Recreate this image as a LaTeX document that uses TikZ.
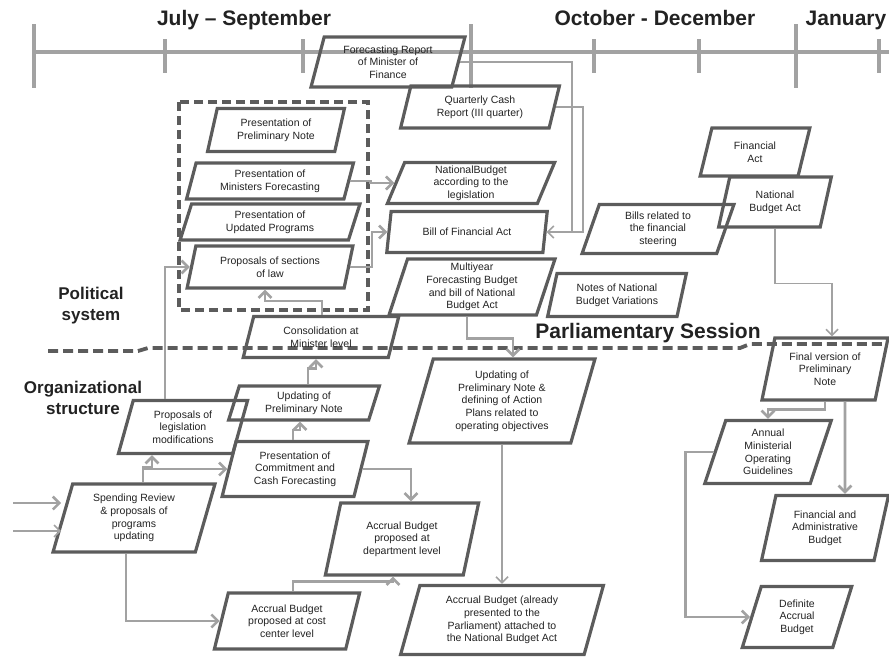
\documentclass[tikz,border=0pt]{standalone}
\usepackage{fontspec}
\setmainfont{Liberation Sans}
\usepackage{tikz}
\usetikzlibrary{shapes.geometric, arrows.meta, positioning, calc}
\definecolor{boxgray}{HTML}{5C5C5C}
\definecolor{linkgray}{HTML}{A2A2A2}
\definecolor{inkgray}{HTML}{222222}

\tikzset{
  pbox/.style={trapezium, trapezium left angle=75, trapezium right angle=105,
    trapezium stretches=true, draw=boxgray, line width=3.2pt, align=center,
    inner sep=1pt, text=inkgray, font=\fontsize{10.5}{12.7}\selectfont},
  flow/.style={draw=linkgray, line width=2.6pt, -{Straight Barb[length=6.5pt,width=13pt]}},
  thinflow/.style={draw=linkgray, line width=1.6pt, -{Straight Barb[length=6pt,width=12pt]}},
  timeline/.style={draw=linkgray, line width=3.5pt},
  period/.style={font=\fontsize{21}{24}\selectfont\bfseries, text=inkgray, inner sep=0pt},
  layer/.style={font=\fontsize{17}{21}\selectfont\bfseries, text=inkgray, align=center, inner sep=0pt},
  divider/.style={draw=boxgray, line width=3.8pt, dash pattern=on 10pt off 5pt},
}

\begin{document}
\begin{tikzpicture}[x=1pt, y=-1pt]
  \useasboundingbox (0,0) rectangle (889,657);

  % time axis
  \draw[timeline] (34,52) -- (889,52);
  \foreach \tx in {34, 471, 796}
    \draw[timeline] (\tx,24) -- (\tx,88);
  \foreach \tx in {165, 303, 594, 699, 879}
    \draw[timeline] (\tx,39) -- (\tx,73);

  \node[period] (julsep) at (244,20) {July – September};
  \node[period] (octdec) at (655,18) {October - December};
  \node[period] (jan) at (846,20) {January};

  % layers
  \node[layer] (polit) at (91,306) {Political\\system};
  \node[layer] (orgst) at (83,398) {Organizational\\structure};
  \node[period] (parl) at (648,333) {Parliamentary Session};
  \draw[divider] (48,351) -- (138,351) -- (148,348) -- (740,348) -- (750,344) -- (882,344);

  % political group
  \draw[divider, line width=3.2pt, dash pattern=on 9pt off 5pt] (179,102) rectangle (368,310);

  % boxes
  \node[pbox, minimum width=154pt, minimum height=50pt] (fore) at (388,62) {Forecasting Report\\of Minister of\\Finance};
  \node[pbox, minimum width=159pt, minimum height=42pt] (qcash) at (480,107) {Quarterly Cash\\Report (III quarter)};
  \node[pbox, minimum width=138pt, minimum height=43pt] (prelim) at (276,130) {Presentation of\\Preliminary Note};
  \node[pbox, minimum width=167pt, minimum height=36pt] (minfc) at (270,181) {Presentation of\\Ministers Forecasting};
  \node[pbox, minimum width=180pt, minimum height=36pt] (updprog) at (270,222) {Presentation of\\Updated Programs};
  \node[pbox, minimum width=166pt, minimum height=42pt] (propsec) at (270,267) {Proposals of sections\\of law};
  \node[pbox, minimum width=168pt, minimum height=41pt] (natleg) at (471,183) {NationalBudget\\according to the\\legislation};
  \node[pbox, minimum width=161pt, minimum height=41pt] (billfa) at (467,232) {Bill of Financial Act};
  \node[pbox, minimum width=166pt, minimum height=56pt] (multi) at (472,287) {Multiyear\\Forecasting Budget\\and bill of National\\Budget Act};
  \node[pbox, minimum width=140pt, minimum height=43pt] (notes) at (617,295) {Notes of National\\Budget Variations};
  \node[pbox, minimum width=153pt, minimum height=49pt] (billsfs) at (658,229) {Bills related to\\the financial\\steering};
  \node[pbox, minimum width=110pt, minimum height=48pt] (finact) at (755,152) {Financial\\Act};
  \node[pbox, minimum width=113pt, minimum height=50pt] (nba) at (775,202) {National\\Budget Act};
  \node[pbox, minimum width=157pt, minimum height=41pt] (consol) at (321,337) {Consolidation at\\Minister level};
  \node[pbox, minimum width=152pt, minimum height=34pt] (updpn) at (304,403) {Updating of\\Preliminary Note};
  \node[pbox, minimum width=130pt, minimum height=53pt] (proplm) at (183,427) {Proposals of\\legislation\\modifications};
  \node[pbox, minimum width=146pt, minimum height=55pt] (commit) at (295,469) {Presentation of\\Commitment and\\Cash Forecasting};
  \node[pbox, minimum width=162pt, minimum height=68pt] (spend) at (134,518) {Spending Review\\\& proposals of\\programs\\updating};
  \node[pbox, minimum width=154pt, minimum height=72pt] (accdep) at (402,539) {Accrual Budget\\proposed at\\department level};
  \node[pbox, minimum width=146pt, minimum height=56pt] (acccost) at (287,621) {Accrual Budget\\proposed at cost\\center level};
  \node[pbox, minimum width=203pt, minimum height=69pt] (accpar) at (502,620) {Accrual Budget (already\\presented to the\\Parliament) attached to\\the National Budget Act};
  \node[pbox, minimum width=186pt, minimum height=84pt] (updap) at (502,401) {Updating of\\Preliminary Note \&\\defining of Action\\Plans related to\\operating objectives};
  \node[pbox, minimum width=127pt, minimum height=62pt] (finalpn) at (825,369) {Final version of\\Preliminary\\Note};
  \node[pbox, minimum width=127pt, minimum height=63pt] (annual) at (768,452) {Annual\\Ministerial\\Operating\\Guidelines};
  \node[pbox, minimum width=128pt, minimum height=65pt] (finadm) at (825,528) {Financial and\\Administrative\\Budget};
  \node[pbox, minimum width=110pt, minimum height=61pt] (defacc) at (797,617) {Definite\\Accrual\\Budget};

  % inputs
  \coordinate (in1) at (13,503);
  \coordinate (in2) at (13,531);
  \draw[flow] (in1) -- (in1 -| spend.west);
  \draw[thinflow] (in2) -- (in2 -| spend.west);

  % connectors
  \draw[flow] (minfc.east) -- ++(20,0) |- (natleg.west);
  \draw[flow] (propsec.east) -- ++(22,0) |- (billfa.west);
  \draw[flow] ([xshift=1pt]consol.north) -- ++(0,-14) -| ([xshift=-5pt]propsec.south);
  \draw[flow] ([xshift=-18pt]proplm.north) |- (propsec.west);
  \draw[flow] ([xshift=4pt]updpn.north) -- ++(0,-16) -| ([xshift=-5pt]consol.south);
  \draw[flow] ([xshift=-2pt]commit.north) -- ++(0,-10) -| ([xshift=-4pt]updpn.south);
  \draw[flow] ([xshift=9pt]spend.north) -- ++(0,-15) -| ([xshift=-31pt]proplm.south);
  \draw[flow] ([xshift=9pt]spend.north) |- (commit.west);
  \draw[flow] (commit.east) -| ([xshift=9pt]accdep.north);
  \draw[flow] ([xshift=-8pt]spend.south) |- (acccost.west);
  \draw[flow] ([xshift=6pt]acccost.north) -- ++(0,-10) -| ([xshift=-9pt]accdep.south);
  \draw[flow] ([xshift=-5pt]multi.south) -- ++(0,22) -| ([xshift=11pt]updap.north);
  \draw[thinflow] (updap.south) -- (accpar.north);
  \draw[thinflow] (nba.south) -- ++(0,55) -| ([xshift=7pt]finalpn.north);
  \draw[flow] (finalpn.south) -- ++(0,8) -| (annual.north);
  \draw[flow] ([xshift=20pt]finalpn.south) -- ([xshift=20pt]finadm.north);
  \draw[flow] (annual.west) -- ++(-28,0) |- (defacc.west);
  \draw[thinflow] (fore.east) -- ++(112,0) |- (billfa.east);
  \draw[thinflow, -] (qcash.east) -- ++(27,0) -- ++(0,125) -- ++(-12,0);
\end{tikzpicture}
\end{document}
